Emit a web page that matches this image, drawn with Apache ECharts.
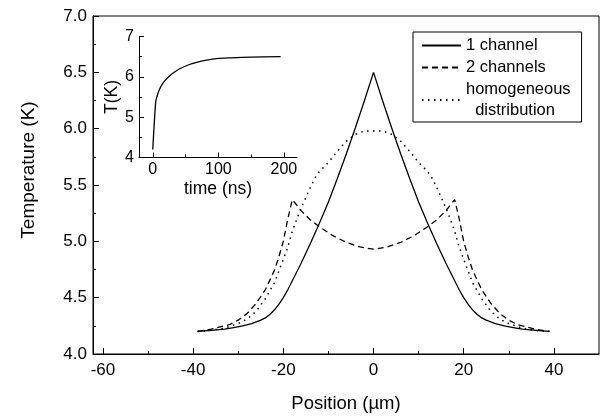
<!DOCTYPE html>
<html><head><meta charset="utf-8">
<script src="https://cdn.jsdelivr.net/npm/echarts@6/dist/echarts.min.js"></script>
<style>html,body{margin:0;padding:0;background:#fff}#c{width:600px;height:418px}</style>
</head><body><div id="c"></div>
<script>
// ---- data ----
const pos1 = [-39,-36,-33,-31,-29,-27,-25,-24,-23,-22,-21,-20,-19,-18,-17,-16,-14,-12,-10,-8,-6,-4,-2,0,2,4,6,8,10,12,14,16,17,18,19,20,21,22,23,24,25,27,29,31,33,36,39];
const temp1 = [4.20,4.21,4.22,4.235,4.25,4.27,4.30,4.32,4.35,4.39,4.44,4.50,4.57,4.65,4.73,4.81,4.98,5.16,5.35,5.56,5.78,6.01,6.25,6.50,6.25,6.01,5.78,5.56,5.35,5.16,4.98,4.81,4.73,4.65,4.57,4.50,4.44,4.39,4.35,4.32,4.30,4.27,4.25,4.235,4.22,4.21,4.20];

const pos2 = [-39,-36,-34,-32,-30,-28,-26,-24,-22,-21,-20,-19,-18,-16,-14,-12,-9,-6,-3,0,3,6,9,12,14,16,18,19,20,21,22,24,26,28,30,32,34,36,39];
const temp2 = [4.20,4.22,4.24,4.26,4.30,4.36,4.45,4.57,4.74,4.86,5.00,5.20,5.37,5.27,5.19,5.13,5.05,4.99,4.95,4.93,4.95,4.99,5.05,5.13,5.19,5.27,5.37,5.20,5.00,4.86,4.74,4.57,4.45,4.36,4.30,4.26,4.24,4.22,4.20];

const posH = [-39,-36,-33,-30,-28,-26,-24,-22,-20,-19,-18,-17,-16,-15,-14,-13,-12,-10,-8,-6,-4,-2,0,2,4,6,8,10,12,13,14,15,16,17,18,19,20,22,24,26,28,30,33,36,39];
const tempH = [4.20,4.21,4.23,4.27,4.31,4.38,4.49,4.63,4.84,4.95,5.09,5.20,5.30,5.39,5.48,5.56,5.62,5.70,5.80,5.89,5.95,5.98,5.98,5.98,5.95,5.89,5.80,5.70,5.62,5.56,5.48,5.39,5.30,5.20,5.09,4.95,4.84,4.63,4.49,4.38,4.31,4.27,4.23,4.21,4.20];

const timeNs = [0,4.5,6.5,10,15,21,30,41,55,67,80,97,118,150,195];
const tempInset = [4.20,5.38,5.52,5.68,5.83,5.95,6.08,6.20,6.30,6.36,6.41,6.45,6.47,6.49,6.50];

const xMajor = [-60,-40,-20,0,20,40];
const xMinor = [-50,-30,-10,10,30];
const tMajor = [0,100,200];
const tMinor = [50,150];

const names = ['1 channel','2 channels','homogeneous\n  distribution'];

const zip = (a,b) => a.map((v,i)=>[v,b[i]]);
const FONT = '"Liberation Sans", Arial, sans-serif';
const black = '#000';

const chart = echarts.init(document.getElementById('c'), null, {renderer:'canvas'});
chart.setOption({
  animation:false,
  backgroundColor:'#fff',
  textStyle:{fontFamily:FONT,color:black},
  grid:[
    {left:93, top:16, width:506, height:339, show:true, borderColor:black, borderWidth:1, backgroundColor:'transparent'},
    {left:139, top:36.5, width:158, height:121}
  ],
  xAxis:[
    {gridIndex:0, type:'value', min:-62.2, max:50,
     name:'Position (\u00b5m)', nameLocation:'middle', nameGap:40,
     nameTextStyle:{fontSize:18.5, color:black, fontFamily:FONT},
     axisLine:{show:true,onZero:false,lineStyle:{color:black,width:1}},
     axisTick:{show:true,inside:true,length:6,customValues:xMajor,lineStyle:{color:black}},
     axisLabel:{show:true,customValues:xMajor,fontSize:17,color:black,margin:8,fontFamily:FONT},
     splitLine:{show:false}},
    {gridIndex:0, type:'value', min:-62.2, max:50, position:'bottom',
     axisLine:{show:false},
     axisTick:{show:true,inside:true,length:3,customValues:xMinor,lineStyle:{color:black}},
     axisLabel:{show:false,customValues:xMinor},
     splitLine:{show:false}},
    {gridIndex:1, type:'value', min:-21, max:220,
     name:'time (ns)', nameLocation:'middle', nameGap:23,
     nameTextStyle:{fontSize:17.5, color:black, fontFamily:FONT},
     axisLine:{show:true,onZero:false,lineStyle:{color:black,width:1}},
     axisTick:{show:true,inside:true,length:5,customValues:tMajor,lineStyle:{color:black}},
     axisLabel:{show:true,customValues:tMajor,fontSize:16,color:black,margin:4,fontFamily:FONT},
     splitLine:{show:false}},
    {gridIndex:1, type:'value', min:-21, max:220, position:'bottom',
     axisLine:{show:false},
     axisTick:{show:true,inside:true,length:3,customValues:tMinor,lineStyle:{color:black}},
     axisLabel:{show:false,customValues:tMinor},
     splitLine:{show:false}}
  ],
  yAxis:[
    {gridIndex:0, type:'value', min:4, max:7, interval:0.5,
     axisLine:{show:true,onZero:false,lineStyle:{color:black,width:1}},
     axisTick:{show:true,inside:true,length:6,lineStyle:{color:black}},
     minorTick:{show:true,splitNumber:2,length:3,lineStyle:{color:black}},
     axisLabel:{fontSize:17,color:black,margin:6,fontFamily:FONT,formatter:v=>v.toFixed(1)},
     splitLine:{show:false}},
    {gridIndex:1, type:'value', min:4, max:7, interval:1,
     name:'T(K)', nameLocation:'middle', nameGap:14, nameRotate:90,
     nameTextStyle:{fontSize:17.5, color:black, fontFamily:FONT},
     axisLine:{show:true,onZero:false,lineStyle:{color:black,width:1}},
     axisTick:{show:true,inside:true,length:5,lineStyle:{color:black}},
     minorTick:{show:true,splitNumber:2,length:3,lineStyle:{color:black}},
     axisLabel:{fontSize:16,color:black,margin:5,fontFamily:FONT},
     splitLine:{show:false}}
  ],
  legend:{
    orient:'vertical', left:413, top:32, width:169,
    padding:[3,11,1,8], itemGap:1, itemWidth:39, itemHeight:14,
    borderColor:black, borderWidth:1, backgroundColor:'#fff',
    data:names.map(n=>({name:n})),
    itemStyle:{opacity:0},
    textStyle:{fontSize:16.5, color:black, lineHeight:21, fontFamily:FONT},
    selectedMode:false
  },
  graphic:[
    {type:'text', x:29, y:170, rotation:Math.PI/2,
     style:{text:'Temperature (K)', font:'19px '+FONT, fill:black, textAlign:'center', textVerticalAlign:'middle'}}
  ],
  series:[
    {name:names[0], type:'line', xAxisIndex:0, yAxisIndex:0, data:zip(pos1,temp1), symbol:'none', smooth:false,
     lineStyle:{color:black,width:1.3,type:'solid'}, itemStyle:{color:black}},
    {name:names[1], type:'line', xAxisIndex:0, yAxisIndex:0, data:zip(pos2,temp2), symbol:'none', smooth:false,
     lineStyle:{color:black,width:1.3,type:[6,4]}, itemStyle:{color:black}},
    {name:names[2], type:'line', xAxisIndex:0, yAxisIndex:0, data:zip(posH,tempH), symbol:'none', smooth:false,
     lineStyle:{color:black,width:1.5,type:[1.5,4.5]}, itemStyle:{color:black}},
    {name:'inset', type:'line', xAxisIndex:2, yAxisIndex:1, data:zip(timeNs,tempInset), symbol:'none', smooth:0.3,
     lineStyle:{color:black,width:1.3}, itemStyle:{color:black}}
  ]
});
</script>
</body></html>
